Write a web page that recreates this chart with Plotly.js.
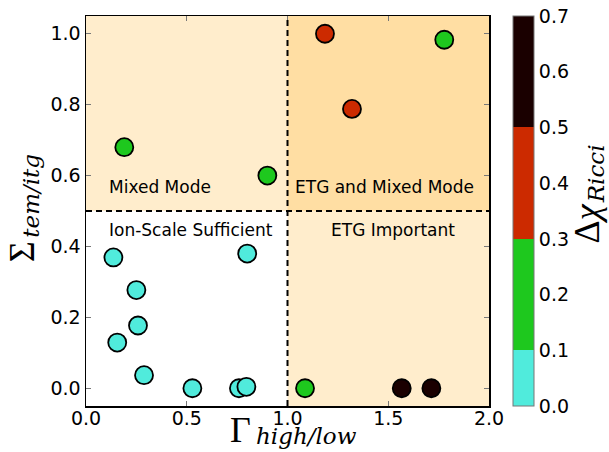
<!DOCTYPE html>
<html>
<head>
<meta charset="utf-8">
<script src="https://cdn.plot.ly/plotly-3.0.1.min.js"></script>
<style>html,body{margin:0;padding:0;background:#fff;}#chart{width:609px;height:452px;}</style>
</head>
<body>
<div id="chart"></div>
<script>
// Data
const gammaHighLow = [0.19, 0.90, 0.136, 0.80, 0.25, 0.258, 0.155, 0.288, 0.528, 0.759, 0.796, 1.186, 1.778, 1.320, 1.087, 1.567, 1.714];
const sigmaTemItg  = [0.68, 0.60, 0.369, 0.38, 0.277, 0.177, 0.129, 0.037, 0.0, 0.0, 0.004, 1.0, 0.983, 0.788, 0.0, 0.0, 0.0];
const deltaChiRicci = [0.2, 0.2, 0.05, 0.05, 0.05, 0.05, 0.05, 0.05, 0.05, 0.05, 0.05, 0.4, 0.2, 0.4, 0.2, 0.6, 0.6];
const xTickVals = [0, 0.5, 1.0, 1.5, 2.0];
const xTickText = ['0.0', '0.5', '1.0', '1.5', '2.0'];
const yTickVals = [0, 0.2, 0.4, 0.6, 0.8, 1.0];
const yTickText = ['0.0', '0.2', '0.4', '0.6', '0.8', '1.0'];
const cbTickVals = [0, 0.1, 0.2, 0.3, 0.4, 0.5, 0.6, 0.7];
const cbTickText = ['0.0', '0.1', '0.2', '0.3', '0.4', '0.5', '0.6', '0.7'];
const regionLabels = ['Mixed Mode', 'Ion-Scale Sufficient', 'ETG and Mixed Mode', 'ETG Important'];

const cCyan = '#50ebdc', cGreen = '#1ec81e', cRed = '#cc2a00', cDark = '#1a0000';
const colorscale = [
  [0, cCyan], [1/7, cCyan],
  [1/7, cGreen], [3/7, cGreen],
  [3/7, cRed], [5/7, cRed],
  [5/7, cDark], [1, cDark]
];

const tickFont = {family: 'DejaVu Sans', size: 19, color: '#000'};
const labelFont = {family: 'DejaVu Sans', size: 17, color: '#000'};
const mathFont = {family: 'Liberation Serif', size: 36, color: '#000'};
const subFont = {family: 'DejaVu Serif', size: 23, color: '#000'};

function ann(text, x, y, xa, ya, font, angle, yshift) {
  return {text: text, x: x, y: y, xref: 'paper', yref: 'paper', xanchor: xa, yanchor: ya,
          textangle: angle || 0, yshift: yshift || 0, showarrow: false, font: font,
          borderpad: 0, borderwidth: 0};
}

const trace = {
  type: 'scatter', mode: 'markers',
  x: gammaHighLow, y: sigmaTemItg,
  marker: {
    size: 18, color: deltaChiRicci, colorscale: colorscale, cmin: 0, cmax: 0.7,
    line: {color: '#000', width: 1.8},
    colorbar: {
      x: 1.0596, xanchor: 'left', xpad: 0, y: 0.5, yanchor: 'middle', ypad: 0,
      len: 1, lenmode: 'fraction', thickness: 21, thicknessmode: 'pixels',
      outlinewidth: 1, outlinecolor: '#777',
      tickvals: cbTickVals, ticktext: cbTickText, ticks: '',
      tickfont: tickFont
    }
  },
  hoverinfo: 'x+y', showlegend: false
};

const layout = {
  width: 609, height: 452,
  margin: {l: 86, r: 120, t: 16, b: 46, pad: 0},
  paper_bgcolor: '#fff', plot_bgcolor: '#fff',
  showlegend: false,
  xaxis: {
    range: [0, 2.0], tickvals: xTickVals, ticktext: xTickText,
    ticks: 'inside', ticklen: 5, tickcolor: '#777', tickwidth: 1,
    showline: true, linecolor: '#000', linewidth: 1.5, mirror: 'ticks',
    showgrid: false, zeroline: false, tickfont: tickFont, automargin: false,
    ticklabelstandoff: -5
  },
  yaxis: {
    range: [-0.05, 1.05], tickvals: yTickVals, ticktext: yTickText,
    ticks: 'inside', ticklen: 5, tickcolor: '#777', tickwidth: 1,
    showline: true, linecolor: '#000', linewidth: 1.5, mirror: 'ticks',
    showgrid: false, zeroline: false, tickfont: tickFont, automargin: false
  },
  shapes: [
    {type: 'rect', layer: 'below', xref: 'x', yref: 'paper', x0: 1, x1: 2, y0: 0, y1: 1,
     fillcolor: 'orange', opacity: 0.2, line: {width: 0}},
    {type: 'rect', layer: 'below', xref: 'paper', yref: 'y', x0: 0, x1: 1, y0: 0.5, y1: 1.05,
     fillcolor: 'orange', opacity: 0.2, line: {width: 0}},
    {type: 'line', xref: 'x', yref: 'paper', x0: 1, x1: 1, y0: 0, y1: 1,
     line: {color: '#000', width: 2, dash: '6px,4px'}},
    {type: 'line', xref: 'paper', yref: 'y', x0: 0, x1: 1, y0: 0.5, y1: 0.5,
     line: {color: '#000', width: 2, dash: '6px,4px'}}
  ],
  annotations: [
    {text: regionLabels[0], x: 0.104, y: 0.568, xref: 'x', yref: 'y', xanchor: 'left', yanchor: 'middle', showarrow: false, font: labelFont},
    {text: regionLabels[1], x: 0.104, y: 0.446, xref: 'x', yref: 'y', xanchor: 'left', yanchor: 'middle', showarrow: false, font: labelFont},
    {text: regionLabels[2], x: 1.027, y: 0.568, xref: 'x', yref: 'y', xanchor: 'left', yanchor: 'middle', showarrow: false, font: labelFont},
    {text: regionLabels[3], x: 1.526, y: 0.446, xref: 'x', yref: 'y', xanchor: 'center', yanchor: 'middle', showarrow: false, font: labelFont},
    // x-axis title: Γ_{high/low}
    ann('Γ', 0.3563, 0, 'left', 'top', mathFont, 0, -3.9),
    ann('<i>high/low</i>', 0.4218, 0, 'left', 'top', subFont, 0, -17),
    // y-axis title: Σ_{tem/itg}
    ann('Σ', -0.208, 0.368, 'left', 'bottom', mathFont, -90),
    ann('<i>tem/itg</i>', -0.1707, 0.432, 'left', 'bottom', subFont, -90),
    // colorbar title: Δχ_{Ricci}
    ann('Δ<i>χ</i>', 1.1958, 0.4167, 'left', 'bottom', mathFont, -90),
    ann('<i>Ricci</i>', 1.2325, 0.5205, 'left', 'bottom', subFont, -90)
  ]
};

Plotly.newPlot('chart', [trace], layout, {displayModeBar: false, staticPlot: true});
</script>
</body>
</html>
